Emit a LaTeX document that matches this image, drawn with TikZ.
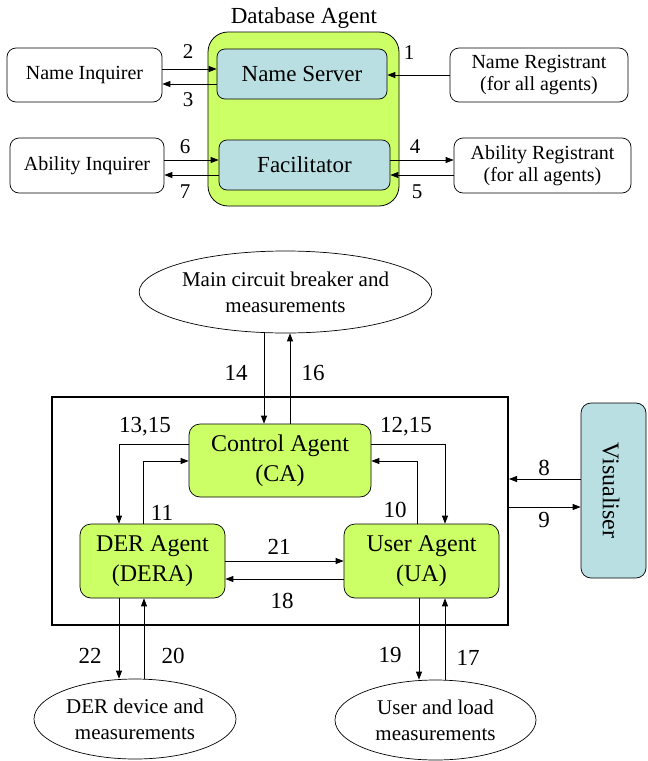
\documentclass[tikz,border=0pt]{standalone}
\usepackage{fontspec}
\setmainfont{Liberation Serif}
\usetikzlibrary{shapes.geometric,arrows.meta}
\definecolor{lime}{HTML}{CCFF66}
\definecolor{paleblue}{HTML}{B9DFE2}
\begin{document}
\begin{tikzpicture}[x=1pt,y=-1pt,
  arr/.style={draw,line width=0.8pt,-{Triangle[length=8pt,width=6pt]}},
  wbox/.style={draw,line width=0.7pt,rounded corners=9pt,fill=white,align=center,font=\fontsize{20}{22}\selectfont,inner sep=0pt},
  bbox/.style={draw,line width=0.7pt,rounded corners=8pt,fill=paleblue,align=center,font=\fontsize{23}{26}\selectfont,inner sep=0pt},
  gbox/.style={draw,line width=0.7pt,rounded corners=11pt,fill=lime,align=center,font=\fontsize{24}{30}\selectfont,inner sep=0pt},
  ell/.style={draw,line width=0.7pt,ellipse,fill=white,align=center,font=\fontsize{21}{26}\selectfont,inner sep=0pt},
  num/.style={font=\fontsize{21}{24}\selectfont,inner sep=0pt},
  bnum/.style={font=\fontsize{23}{26}\selectfont,inner sep=0pt}]
\useasboundingbox (0,0) rectangle (648,761);
% ---- top part ----
\node[draw,line width=0.8pt,rounded corners=20pt,fill=lime,minimum width=191pt,minimum height=174pt] (db) at (303.5,119) {};
\node[font=\fontsize{23}{26}\selectfont,inner sep=0pt] (dbl) at (304,18) {Database Agent};
\node[bbox,minimum width=170pt,minimum height=50pt] (ns) at (302,74) {Name Server};
\node[bbox,minimum width=171pt,minimum height=50pt] (fac) at (304.5,165) {Facilitator};
\node[wbox,minimum width=155pt,minimum height=54pt] (ni) at (84.5,75) {Name Inquirer};
\node[wbox,minimum width=154pt,minimum height=55pt] (ai) at (87,165.5) {Ability Inquirer};
\node[wbox,minimum width=178pt,minimum height=54pt] (nr) at (539,75) {Name Registrant\\(for all agents)};
\node[wbox,minimum width=177pt,minimum height=55pt] (ar) at (542.5,165.5) {Ability Registrant\\(for all agents)};
\draw[arr] (ni.east|-0,69) -- (ns.west|-0,69);
\draw[arr] (ns.west|-0,84) -- (ni.east|-0,84);
\draw[arr] (nr.west|-0,75) -- (ns.east|-0,75);
\draw[arr] (ai.east|-0,160) -- (fac.west|-0,160);
\draw[arr] (fac.west|-0,175) -- (ai.east|-0,175);
\draw[arr] (fac.east|-0,160) -- (ar.west|-0,160);
\draw[arr] (ar.west|-0,175) -- (fac.east|-0,175);
\node[num] (l2) at (188,52) {2};
\node[num] (l3) at (188,100) {3};
\node[num] (l1) at (409,53) {1};
\node[num] (l6) at (185,147) {6};
\node[num] (l7) at (185,192) {7};
\node[num] (l4) at (415,147) {4};
\node[num] (l5) at (417,192) {5};
% ---- bottom part ----
\node[ell,minimum width=229pt,minimum height=82pt] (mcb) at (285.5,292) {Main circuit breaker and\\measurements};
\node[draw,line width=2pt,minimum width=456pt,minimum height=228pt] (sys) at (280,511) {};
\node[gbox,minimum width=182pt,minimum height=73pt] (ca) at (280,460.5) {Control Agent\\(CA)};
\node[gbox,minimum width=145pt,minimum height=74pt] (dera) at (152.5,561) {DER Agent\\(DERA)};
\node[gbox,minimum width=155pt,minimum height=74pt] (ua) at (421.5,561) {User Agent\\(UA)};
\node[draw,line width=0.7pt,rounded corners=10pt,fill=paleblue,minimum width=65pt,minimum height=175pt] (vis) at (613.5,490.5) {};
\node[rotate=-90,font=\fontsize{24}{26}\selectfont,inner sep=0pt] (visl) at (611,490.5) {Visualiser};
\node[ell,minimum width=202pt,minimum height=80pt] (der) at (135,719) {DER device and\\measurements};
\node[ell,minimum width=201pt,minimum height=80pt] (usr) at (435.5,720) {User and load\\measurements};
% connectors
\draw[arr] (mcb.south-|264,0) -- (ca.north-|264,0);
\draw[arr] (ca.north-|290,0) -- (mcb.south-|290,0);
\draw[arr] (ca.west|-0,444) -| (dera.north-|119,0);
\draw[arr] (dera.north-|143,0) |- (ca.west|-0,461);
\draw[arr] (ca.east|-0,444) -| (ua.north-|445,0);
\draw[arr] (ua.north-|417,0) |- (ca.east|-0,461);
\draw[arr] (vis.west|-0,479) -- (sys.east|-0,479);
\draw[arr] (sys.east|-0,507) -- (vis.west|-0,507);
\draw[arr] (dera.east|-0,561) -- (ua.west|-0,561);
\draw[arr] (ua.west|-0,579) -- (dera.east|-0,579);
\draw[arr] (dera.south-|119,0) -- (der.north-|119,0);
\draw[arr] (der.north-|144,0) -- (dera.south-|144,0);
\draw[arr] (ua.south-|419,0) -- (usr.north-|419,0);
\draw[arr] (usr.north-|445,0) -- (ua.south-|445,0);
\node[bnum] (l14) at (236,373) {14};
\node[bnum] (l16) at (313,373) {16};
\node[bnum] (l1315) at (145,427) {13,15};
\node[bnum] (l1215) at (406,427) {12,15};
\node[bnum] (l11) at (162,513) {11};
\node[bnum] (l10) at (395,510) {10};
\node[bnum] (l8) at (544,468) {8};
\node[bnum] (l9) at (544,520) {9};
\node[bnum] (l21) at (279,547) {21};
\node[bnum] (l18) at (282,601) {18};
\node[bnum] (l22) at (90,656) {22};
\node[bnum] (l20) at (173,656) {20};
\node[bnum] (l19) at (390,655) {19};
\node[bnum] (l17) at (468,658) {17};
\end{tikzpicture}
\end{document}
